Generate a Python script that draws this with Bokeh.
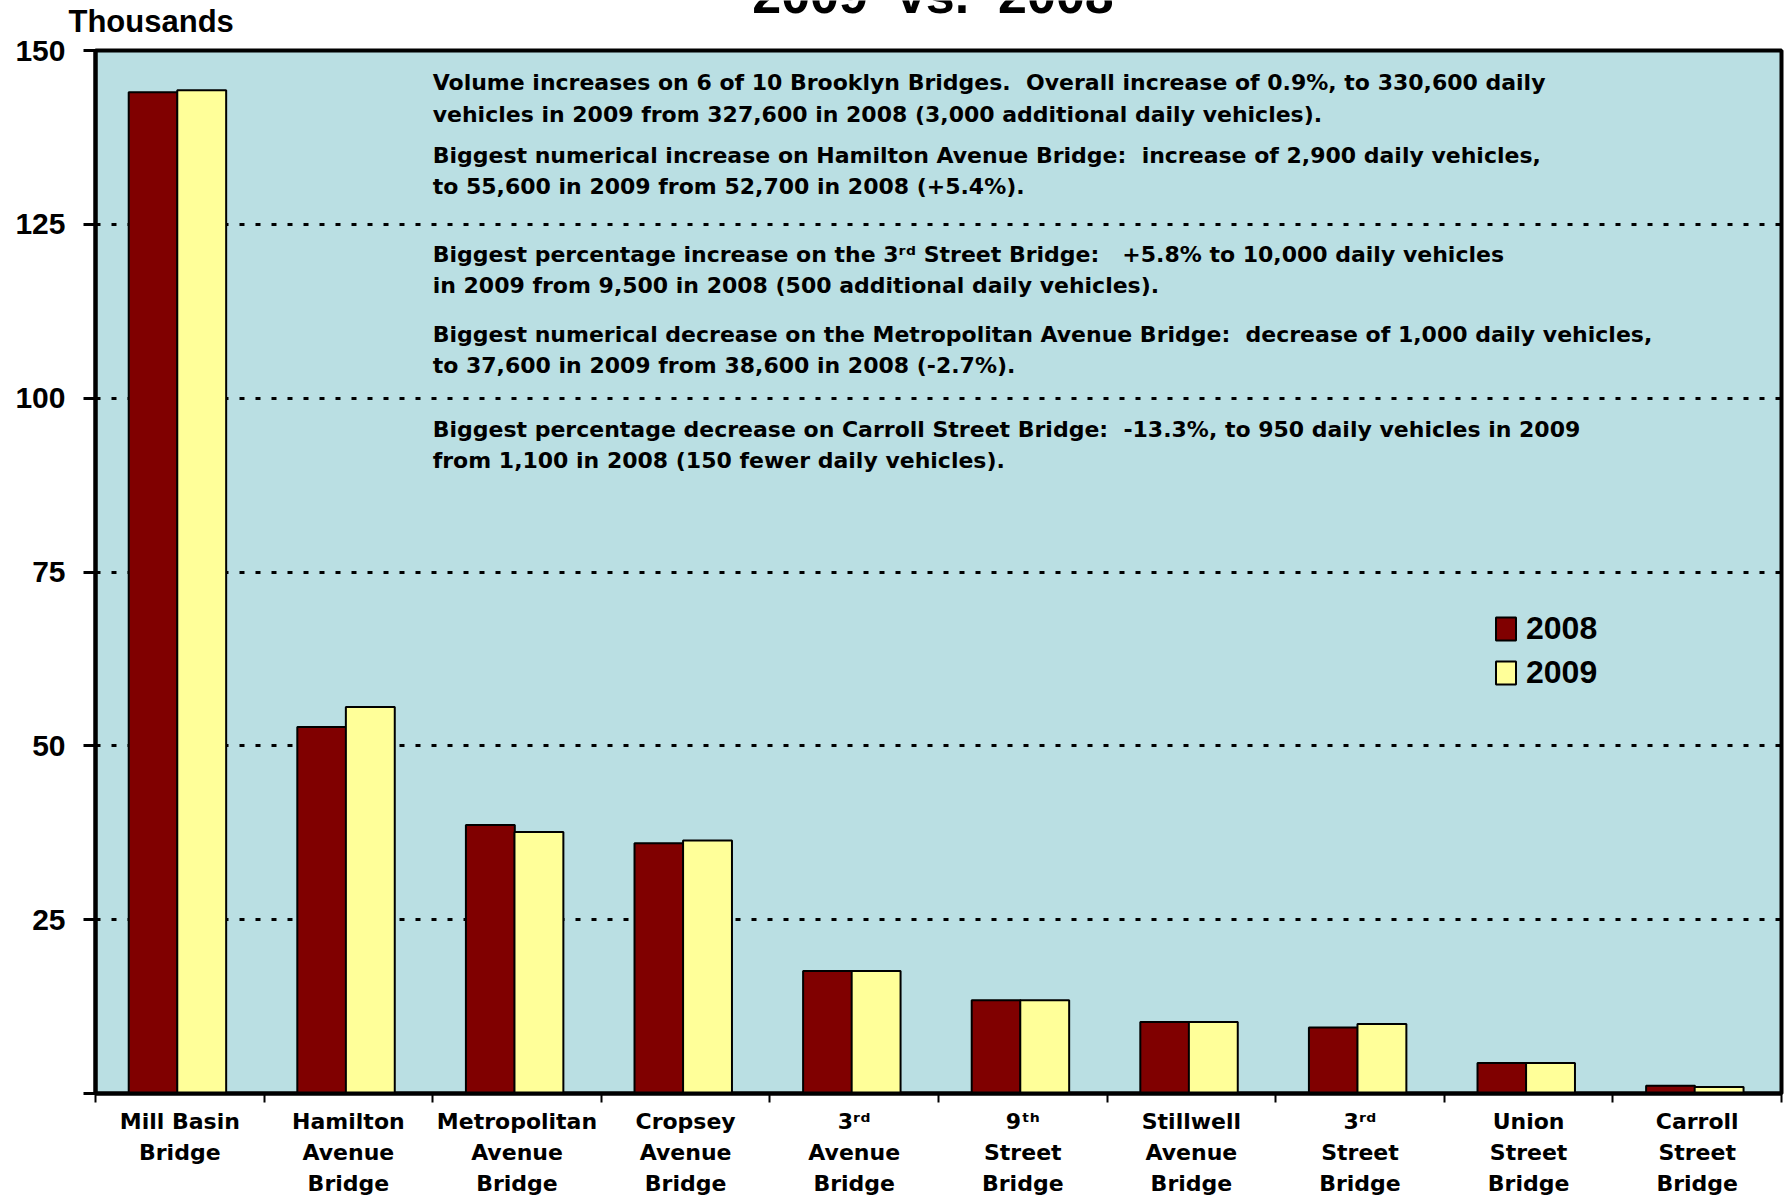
from bokeh.plotting import figure
from bokeh.layouts import column, row
from bokeh.models import (Range1d, FixedTicker, Legend, LegendItem,
                          ColumnDataSource)
from bokeh.transform import dodge
from bokeh.core.properties import value
from bokeh.embed import file_html
from bokeh.resources import INLINE

# ---------------- data ----------------
bridges = [
    "Mill Basin\nBridge",
    "Hamilton\nAvenue\nBridge",
    "Metropolitan\nAvenue\nBridge",
    "Cropsey\nAvenue\nBridge",
    "3\u02b3\u1d48\nAvenue\nBridge",
    "9\u1d57\u02b0\nStreet\nBridge",
    "Stillwell\nAvenue\nBridge",
    "3\u02b3\u1d48\nStreet\nBridge",
    "Union\nStreet\nBridge",
    "Carroll\nStreet\nBridge",
]
vol_2008 = [144.0, 52.7, 38.6, 36.0, 17.6, 13.4, 10.3, 9.5, 4.4, 1.1]
vol_2009 = [144.3, 55.6, 37.6, 36.4, 17.6, 13.4, 10.3, 10.0, 4.4, 0.95]
y_ticks = [0, 25, 50, 75, 100, 125, 150]
series_names = ["2008", "2009"]

S2 = "\u00a0 "  # double space that survives SVG whitespace collapsing
notes = [
    "Volume increases on 6 of 10 Brooklyn Bridges." + S2 + "Overall increase of 0.9%, to 330,600 daily",
    "vehicles in 2009 from 327,600 in 2008 (3,000 additional daily vehicles).",
    "Biggest numerical increase on Hamilton Avenue Bridge:" + S2 + "increase of 2,900 daily vehicles,",
    "to 55,600 in 2009 from 52,700 in 2008 (+5.4%).",
    "Biggest percentage increase on the 3\u02b3\u1d48 Street Bridge:\u00a0\u00a0 +5.8% to 10,000 daily vehicles",
    "in 2009 from 9,500 in 2008 (500 additional daily vehicles).",
    "Biggest numerical decrease on the Metropolitan Avenue Bridge:" + S2 + "decrease of 1,000 daily vehicles,",
    "to 37,600 in 2009 from 38,600 in 2008 (-2.7%).",
    "Biggest percentage decrease on Carroll Street Bridge:" + S2 + "-13.3%, to 950 daily vehicles in 2009",
    "from 1,100 in 2008 (150 fewer daily vehicles).",
]
title_text = "2009" + S2 + "vs." + S2 + "2008"
unit_text = "Thousands"

FONT = "Liberation Sans"
WIDE = "DejaVu Sans"
W = 1787
HEAD = 36

# ---------------- header strip (title + unit label) ----------------
head = figure(width=W, height=HEAD, output_backend="svg", toolbar_location=None,
              x_range=Range1d(0, W), y_range=Range1d(0, HEAD),
              x_axis_location=None, y_axis_location=None,
              min_border=0, min_border_left=0, min_border_right=0,
              min_border_top=0, min_border_bottom=0)
head.title = None
head.outline_line_color = None
head.background_fill_color = "white"
head.border_fill_color = "white"
head.grid.visible = False
head.text(x=[932.5], y=[HEAD + 6], text=[title_text], text_font=value(FONT),
          text_font_style="bold", text_font_size="52px", text_color="black",
          text_align="center", text_baseline="alphabetic")
head.text(x=[68], y=[HEAD - 21], text=[unit_text], text_font=value(FONT),
          text_font_style="bold", text_font_size="31px", text_color="black",
          text_align="left", text_baseline="alphabetic")

# ---------------- main chart ----------------
p = figure(width=W, height=1200 - HEAD, output_backend="svg", toolbar_location=None,
           x_range=Range1d(0, len(bridges)), y_range=Range1d(0, 150),
           min_border_left=95, min_border_right=6, min_border_top=50 - HEAD,
           min_border_bottom=107)
p.background_fill_color = "#BADFE3"
p.border_fill_color = "white"
p.outline_line_color = "black"
p.outline_line_width = 4

centers = [i + 0.5 for i in range(len(bridges))]
src = ColumnDataSource(dict(x=centers, y2008=vol_2008, y2009=vol_2009))

r1 = p.vbar(x=dodge("x", -0.158, range=p.x_range), top="y2008", bottom=0, width=0.29,
            source=src, fill_color="#800000", line_color="black", line_width=2)
r2 = p.vbar(x=dodge("x", 0.13, range=p.x_range), top="y2009", bottom=0, width=0.29,
            source=src, fill_color="#FFFF99", line_color="black", line_width=2)

# grid
p.xgrid.visible = False
p.ygrid.grid_line_color = "black"
p.ygrid.grid_line_width = 3
p.ygrid.grid_line_dash = "5 11"
p.ygrid.level = "underlay"

# y axis
p.yaxis.ticker = FixedTicker(ticks=y_ticks)
p.yaxis.major_label_overrides = {0: ""}
p.yaxis.axis_line_width = 4
p.yaxis.major_tick_line_width = 3
p.yaxis.major_tick_out = 12
p.yaxis.major_tick_in = 0
p.yaxis.minor_tick_line_color = None
p.yaxis.major_label_text_font = FONT
p.yaxis.major_label_text_font_style = "bold"
p.yaxis.major_label_text_font_size = "30px"
p.yaxis.major_label_text_color = "black"
p.yaxis.major_label_standoff = 18

# x axis
p.xaxis.ticker = FixedTicker(ticks=centers, minor_ticks=list(range(len(bridges) + 1)))
p.xaxis.major_label_overrides = {c: b for c, b in zip(centers, bridges)}
p.xaxis.axis_line_width = 4
p.xaxis.major_tick_line_color = None
p.xaxis.minor_tick_line_color = "black"
p.xaxis.minor_tick_line_width = 2
p.xaxis.minor_tick_out = 9
p.xaxis.minor_tick_in = 0
p.xaxis.major_label_text_font = WIDE
p.xaxis.major_label_text_font_style = "bold"
p.xaxis.major_label_text_font_size = "22px"
p.xaxis.major_label_text_color = "black"
p.xaxis.major_label_text_line_height = 1.25
p.xaxis.major_label_standoff = 6

# annotation text block
note_y = [145.35, 140.75, 134.85, 130.4, 120.6, 116.15, 109.1, 104.65, 95.45, 91.0]
nsrc = ColumnDataSource(dict(x=[2.0] * len(notes), y=note_y, t=notes))
p.text(x="x", y="y", text="t", source=nsrc, text_font=value(WIDE),
       text_font_style="bold", text_font_size="22px", text_color="black",
       text_align="left", text_baseline="alphabetic")

# legend
legend = Legend(items=[LegendItem(label=series_names[0], renderers=[r1]),
                       LegendItem(label=series_names[1], renderers=[r2])],
                location=(1398, 402), orientation="vertical")
legend.label_text_font = FONT
legend.label_text_font_style = "bold"
legend.label_text_font_size = "32px"
legend.label_text_color = "black"
legend.glyph_width = 25
legend.glyph_height = 29
legend.label_standoff = 8
legend.spacing = 7
legend.padding = 0
legend.margin = 0
legend.border_line_color = None
legend.background_fill_alpha = 0
p.add_layout(legend)

layout = column(row(head), p, spacing=0)
open("out.html", "w").write(file_html(layout, INLINE))
